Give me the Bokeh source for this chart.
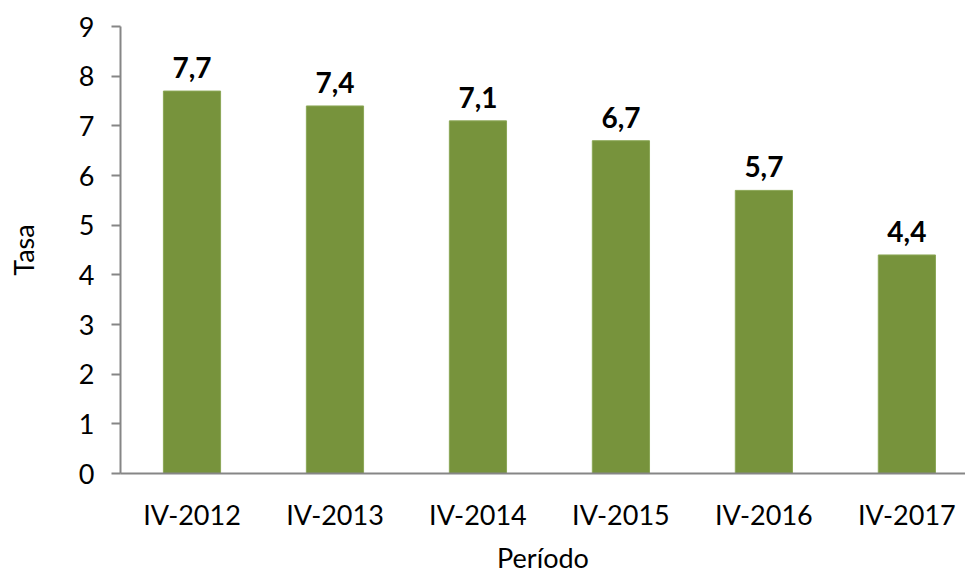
from bokeh.plotting import figure
from bokeh.models import ColumnDataSource, Range1d, FixedTicker, LabelSet, Title
from bokeh.embed import file_html
from bokeh.resources import INLINE
from bokeh.core.properties import value

periodos = ["IV-2012", "IV-2013", "IV-2014", "IV-2015", "IV-2016", "IV-2017"]
tasas = [7.7, 7.4, 7.1, 6.7, 5.7, 4.4]
etiquetas = ["7,7", "7,4", "7,1", "6,7", "5,7", "4,4"]
titulo_x = "Período"
titulo_y = "Tasa"

FONT = "Lato"
XMIN, XMAX = -0.5, 5.41
xs = list(range(len(periodos)))
src = ColumnDataSource(dict(x=xs, y=tasas, lab=etiquetas))

p = figure(width=965, height=579, output_backend="svg", toolbar_location=None,
           x_range=Range1d(XMIN, XMAX), y_range=Range1d(0, 9),
           min_border_left=120, min_border_right=0, min_border_top=26, min_border_bottom=106)
p.outline_line_color = None
p.grid.grid_line_color = None
p.background_fill_color = "white"

p.vbar(x="x", top="y", width=0.40, source=src, fill_color="#77933C", line_color="#8BA756", line_width=1)

labels = LabelSet(x="x", y="y", text="lab", source=src, text_align="center", text_baseline="alphabetic",
                  y_offset=13, text_font=value(FONT), text_font_style="bold", text_font_size="28px",
                  text_color="black")
p.add_layout(labels)

p.yaxis.ticker = FixedTicker(ticks=list(range(10)))
p.xaxis.ticker = FixedTicker(ticks=xs)
p.xaxis.major_label_overrides = {i: s for i, s in enumerate(periodos)}

for ax in (p.xaxis, p.yaxis):
    ax.axis_line_color = "#868686"
    ax.axis_line_width = 2
    ax.major_label_text_font = FONT
    ax.major_label_text_font_size = "27px"
    ax.major_label_text_color = "black"
    ax.axis_label_text_font = FONT
    ax.axis_label_text_font_size = "27px"
    ax.axis_label_text_font_style = "normal"
    ax.axis_label_text_color = "black"
    ax.minor_tick_line_color = None

p.yaxis.major_tick_line_color = "#868686"
p.yaxis.major_tick_line_width = 2
p.yaxis.major_tick_out = 9
p.yaxis.major_tick_in = 0
p.yaxis.major_label_standoff = 17
p.yaxis.axis_label = titulo_y
p.yaxis.axis_label_standoff = 36

p.xaxis.major_tick_line_color = None
p.xaxis.major_tick_out = 0
p.xaxis.major_label_standoff = 24

# x-axis title as a Title in the bottom panel, centred under the frame
xt = Title(text=titulo_x, align="center", text_font=FONT, text_font_size="27px",
           text_font_style="normal", text_color="black", standoff=11)
p.add_layout(xt, "below")

open("out.html", "w").write(file_html(p, INLINE))
